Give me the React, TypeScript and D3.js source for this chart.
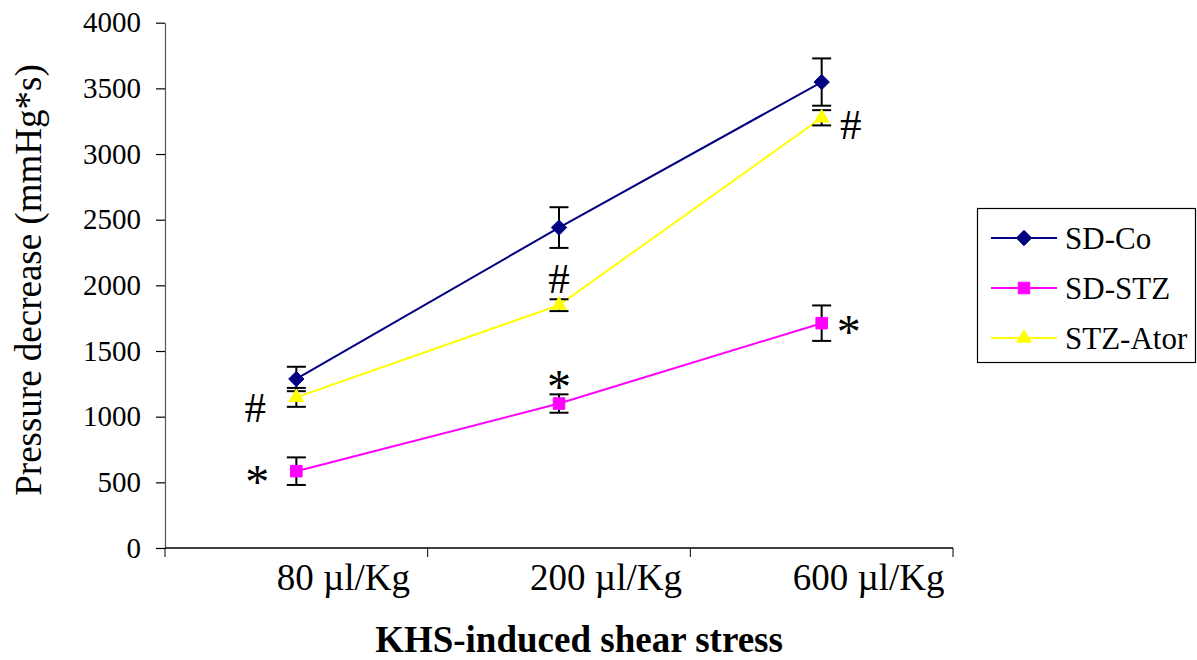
import React, { useEffect, useRef } from 'react';
import * as d3 from 'd3';

const categories = ['80 µl/Kg', '200 µl/Kg', '600 µl/Kg'];
const seriesNames = ['SD-Co', 'SD-STZ', 'STZ-Ator'];
const sdCo = [1287, 2440, 3548];
const sdCoErr = [93, 155, 180];
const sdStz = [585, 1100, 1712];
const sdStzErr = [105, 70, 135];
const stzAtor = [1147, 1849, 3276];
const stzAtorErr = [72, 45, 58];
const yTicks = [0, 500, 1000, 1500, 2000, 2500, 3000, 3500, 4000];
// significance marks: symbol, series index, category index, where it sits
const marks = [
  { symbol: '#', series: 2, cat: 0, side: 'left' },
  { symbol: '*', series: 1, cat: 0, side: 'left' },
  { symbol: '#', series: 2, cat: 1, side: 'above' },
  { symbol: '*', series: 1, cat: 1, side: 'above' },
  { symbol: '#', series: 2, cat: 2, side: 'right' },
  { symbol: '*', series: 1, cat: 2, side: 'right' },
];

const FONT = '"Liberation Serif", "Times New Roman", serif';

const App: React.FC = () => {
  const ref = useRef<SVGSVGElement | null>(null);

  useEffect(() => {
    if (!ref.current) return;
    const svg = d3.select(ref.current);
    svg.selectAll('*').remove();

    const left = 165;
    const right = 953;
    const top = 22.7;
    const bottom = 548;

    const x = d3.scaleBand().domain(categories).range([left, right]).padding(0);
    const y = d3.scaleLinear().domain([0, 4000]).range([bottom, top]);
    const cx = (i: number) => x(categories[i])! + x.bandwidth() / 2;

    const series = [
      { name: seriesNames[0], values: sdCo, err: sdCoErr, color: '#000080', shape: d3.symbolDiamond2, size: 150 },
      { name: seriesNames[1], values: sdStz, err: sdStzErr, color: '#FF00FF', shape: d3.symbolSquare2, size: 170 },
      { name: seriesNames[2], values: stzAtor, err: stzAtorErr, color: '#FFFF00', shape: d3.symbolTriangle2, size: 150 },
    ];

    // y axis
    const yAxis = svg
      .append('g')
      .attr('transform', `translate(${left},0)`)
      .call(d3.axisLeft(y).tickValues(yTicks).tickSize(9).tickSizeOuter(0).tickPadding(15).tickFormat(d3.format('d')));
    yAxis.select('.domain').attr('stroke', '#555').attr('stroke-width', 1.2);
    yAxis.selectAll('.tick line').attr('stroke', '#000').attr('stroke-width', 1.2);
    yAxis
      .selectAll('.tick text')
      .attr('font-family', FONT)
      .attr('font-size', 29)
      .attr('fill', '#000');

    // x axis
    const xg = svg.append('g');
    xg.append('line')
      .attr('x1', left)
      .attr('x2', right)
      .attr('y1', bottom)
      .attr('y2', bottom)
      .attr('stroke', '#000')
      .attr('stroke-width', 1.5);
    const bounds = categories.map((c) => x(c)!).concat([right]);
    xg.selectAll('.xt')
      .data(bounds)
      .enter()
      .append('line')
      .attr('x1', (d) => d)
      .attr('x2', (d) => d)
      .attr('y1', bottom)
      .attr('y2', bottom + 9)
      .attr('stroke', '#000')
      .attr('stroke-width', 1);
    xg.selectAll('.xl')
      .data(categories)
      .enter()
      .append('text')
      .attr('x', (_d, i) => cx(i) + 47)
      .attr('y', bottom + 42)
      .attr('text-anchor', 'middle')
      .attr('font-family', FONT)
      .attr('font-size', 37)
      .text((d) => d);

    // axis titles
    svg
      .append('text')
      .attr('transform', `translate(41,280) rotate(-90)`)
      .attr('text-anchor', 'middle')
      .attr('font-family', FONT)
      .attr('font-size', 37)
      .text('Pressure decrease (mmHg*s)');
    svg
      .append('text')
      .attr('x', 579)
      .attr('y', 652)
      .attr('text-anchor', 'middle')
      .attr('font-family', FONT)
      .attr('font-weight', 'bold')
      .attr('font-size', 37)
      .text('KHS-induced shear stress');

    // lines
    const line = d3
      .line<number>()
      .x((_d, i) => cx(i))
      .y((d) => y(d));
    series.forEach((s) => {
      svg
        .append('path')
        .attr('d', line(s.values))
        .attr('fill', 'none')
        .attr('stroke', s.color)
        .attr('stroke-width', 2);
    });

    // error bars
    series.forEach((s) => {
      const g = svg.append('g').attr('stroke', '#000').attr('stroke-width', 2);
      s.values.forEach((v, i) => {
        const xc = cx(i);
        const y1 = y(v + s.err[i]);
        const y0 = y(v - s.err[i]);
        g.append('line').attr('x1', xc).attr('x2', xc).attr('y1', y1).attr('y2', y0);
        g.append('line').attr('x1', xc - 9.5).attr('x2', xc + 9.5).attr('y1', y1).attr('y2', y1);
        g.append('line').attr('x1', xc - 9.5).attr('x2', xc + 9.5).attr('y1', y0).attr('y2', y0);
      });
    });

    // markers
    series.forEach((s) => {
      svg
        .append('g')
        .selectAll('path')
        .data(s.values)
        .enter()
        .append('path')
        .attr('d', d3.symbol(s.shape, s.size)()!)
        .attr('transform', (d, i) => `translate(${cx(i)},${y(d)})`)
        .attr('fill', s.color)
        .attr('stroke', s.color)
        .attr('stroke-width', 1);
    });

    // significance marks
    marks.forEach((m) => {
      const s = series[m.series];
      const px = cx(m.cat);
      const py = y(s.values[m.cat]);
      const star = m.symbol === '*';
      const fs = star ? 48 : 43;
      let tx = px;
      let ty = py;
      if (m.side === 'left') {
        tx = px - (star ? 39 : 41);
        ty = py + (star ? 7 : 10);
      } else if (m.side === 'right') {
        tx = px + (star ? 27 : 29);
        ty = py + (star ? 5 : 7);
      } else {
        ty = py - (star ? 21 : 27);
      }
      const shift = star ? 0.42 : 0.34;
      svg
        .append('text')
        .attr('x', tx)
        .attr('y', ty + shift * fs)
        .attr('text-anchor', 'middle')
        .attr('font-family', FONT)
        .attr('font-size', fs)
        .text(m.symbol);
    });

    // legend
    const lg = svg.append('g');
    lg.append('rect')
      .attr('x', 977.5)
      .attr('y', 208.5)
      .attr('width', 218)
      .attr('height', 154)
      .attr('fill', '#fff')
      .attr('stroke', '#000')
      .attr('stroke-width', 1.2);
    series.forEach((s, i) => {
      const ly = 238 + i * 50;
      lg.append('line')
        .attr('x1', 991)
        .attr('x2', 1057)
        .attr('y1', ly)
        .attr('y2', ly)
        .attr('stroke', s.color)
        .attr('stroke-width', 2);
      lg.append('path')
        .attr('d', d3.symbol(s.shape, s.size)()!)
        .attr('transform', `translate(1024,${ly})`)
        .attr('fill', s.color)
        .attr('stroke', s.color);
      lg.append('text')
        .attr('x', 1065)
        .attr('y', ly + 11)
        .attr('font-family', FONT)
        .attr('font-size', 31)
        .text(s.name);
    });
  }, []);

  return (
    <svg
      ref={ref}
      width={1197}
      height={660}
      style={{ position: 'absolute', left: 0, top: 0, background: '#fff' }}
    ></svg>
  );
};

export default App;
